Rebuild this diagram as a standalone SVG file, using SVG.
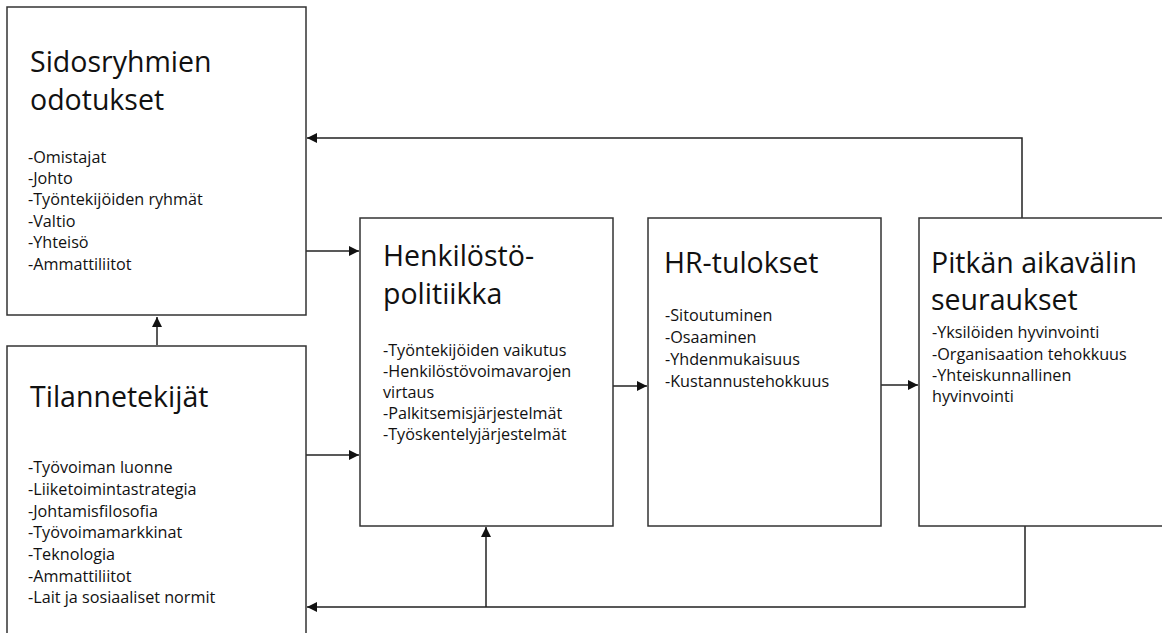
<svg xmlns="http://www.w3.org/2000/svg" width="1162" height="633" viewBox="0 0 1162 633">
<defs>
<marker id="ah" viewBox="0 0 10 10" refX="10" refY="5" markerWidth="10" markerHeight="10" markerUnits="userSpaceOnUse" orient="auto">
<path d="M0,0 L10,5 L0,10 z" fill="#111"/>
</marker>
<style>
.box{fill:#fff;stroke:#333;stroke-width:1.5}
.t{font-family:"Open Sans","Liberation Sans",sans-serif;font-size:28.5px;fill:#111}
.b{font-family:"Open Sans","Liberation Sans",sans-serif;font-size:16.2px;fill:#111}
.c{fill:none;stroke:#222;stroke-width:1.5}
</style>
</defs>
<rect width="1162" height="633" fill="#fff"/>
<g id="connectors">
<polyline class="c" points="1022,218 1022,138 307,138" marker-end="url(#ah)"/>
<line class="c" x1="306" y1="251" x2="359" y2="251" marker-end="url(#ah)"/>
<line class="c" x1="306" y1="455" x2="359" y2="455" marker-end="url(#ah)"/>
<line class="c" x1="157" y1="345" x2="157" y2="317" marker-end="url(#ah)"/>
<line class="c" x1="613" y1="386" x2="647" y2="386" marker-end="url(#ah)"/>
<line class="c" x1="881" y1="385" x2="918" y2="385" marker-end="url(#ah)"/>
<polyline class="c" points="1025,526 1025,607 307,607" marker-end="url(#ah)"/>
<line class="c" x1="486" y1="607" x2="486" y2="527" marker-end="url(#ah)"/>
</g>
<g id="sidosryhmien">
<rect class="box" x="7" y="7" width="299" height="308"/>
<text class="t" x="30" y="72">Sidosryhmien</text>
<text class="t" x="30" y="110">odotukset</text>
<text class="b" x="28" y="163">-Omistajat</text>
<text class="b" x="28" y="184">-Johto</text>
<text class="b" x="28" y="205">-Työntekijöiden ryhmät</text>
<text class="b" x="28" y="227">-Valtio</text>
<text class="b" x="28" y="248">-Yhteisö</text>
<text class="b" x="28" y="270">-Ammattiliitot</text>
</g>
<g id="tilannetekijat">
<rect class="box" x="7" y="346" width="299" height="300"/>
<text class="t" x="30" y="407">Tilannetekijät</text>
<text class="b" x="28" y="473">-Työvoiman luonne</text>
<text class="b" x="28" y="495">-Liiketoimintastrategia</text>
<text class="b" x="28" y="517">-Johtamisfilosofia</text>
<text class="b" x="28" y="538">-Työvoimamarkkinat</text>
<text class="b" x="28" y="560">-Teknologia</text>
<text class="b" x="28" y="582">-Ammattiliitot</text>
<text class="b" x="28" y="603">-Lait ja sosiaaliset normit</text>
</g>
<g id="henkilostopolitiikka">
<rect class="box" x="360" y="218" width="253" height="308"/>
<text class="t" x="383" y="266">Henkilöstö-</text>
<text class="t" x="383" y="304">politiikka</text>
<text class="b" x="383" y="356">-Työntekijöiden vaikutus</text>
<text class="b" x="383" y="377">-Henkilöstövoimavarojen</text>
<text class="b" x="383" y="398">virtaus</text>
<text class="b" x="383" y="419">-Palkitsemisjärjestelmät</text>
<text class="b" x="383" y="440">-Työskentelyjärjestelmät</text>
</g>
<g id="hr-tulokset">
<rect class="box" x="648" y="218" width="233" height="308"/>
<text class="t" x="664" y="273">HR-tulokset</text>
<text class="b" x="665" y="321">-Sitoutuminen</text>
<text class="b" x="665" y="343">-Osaaminen</text>
<text class="b" x="665" y="365">-Yhdenmukaisuus</text>
<text class="b" x="665" y="387">-Kustannustehokkuus</text>
</g>
<g id="pitkan-aikavalin">
<rect class="box" x="919" y="218" width="260" height="308"/>
<text class="t" x="931" y="273">Pitkän aikavälin</text>
<text class="t" x="931" y="310">seuraukset</text>
<text class="b" x="932" y="338">-Yksilöiden hyvinvointi</text>
<text class="b" x="932" y="360">-Organisaation tehokkuus</text>
<text class="b" x="932" y="381">-Yhteiskunnallinen</text>
<text class="b" x="932" y="402">hyvinvointi</text>
</g>
</svg>
